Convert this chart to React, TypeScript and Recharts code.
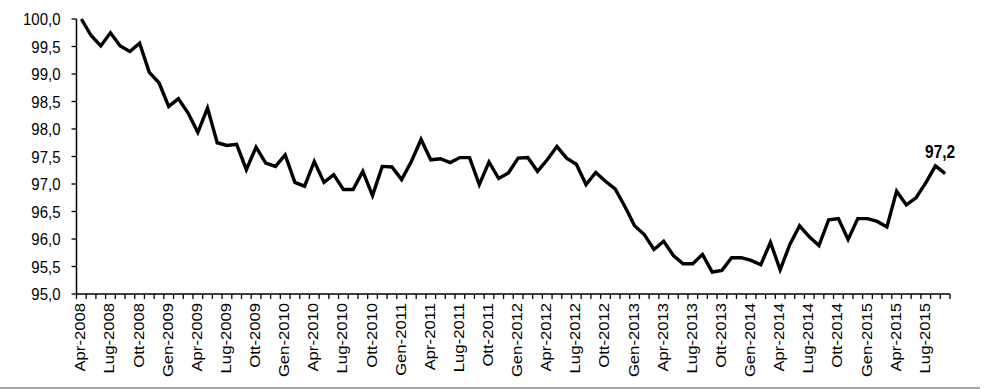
import React from 'react'
import { LineChart, Line, XAxis, YAxis, LabelList } from 'recharts'

// mesi da Apr-2008 a Set-2015
const months = [
  'Apr-2008', 'Mag-2008', 'Giu-2008', 'Lug-2008', 'Ago-2008', 'Set-2008', 'Ott-2008', 'Nov-2008', 'Dic-2008',
  'Gen-2009', 'Feb-2009', 'Mar-2009', 'Apr-2009', 'Mag-2009', 'Giu-2009', 'Lug-2009', 'Ago-2009', 'Set-2009',
  'Ott-2009', 'Nov-2009', 'Dic-2009', 'Gen-2010', 'Feb-2010', 'Mar-2010', 'Apr-2010', 'Mag-2010', 'Giu-2010',
  'Lug-2010', 'Ago-2010', 'Set-2010', 'Ott-2010', 'Nov-2010', 'Dic-2010', 'Gen-2011', 'Feb-2011', 'Mar-2011',
  'Apr-2011', 'Mag-2011', 'Giu-2011', 'Lug-2011', 'Ago-2011', 'Set-2011', 'Ott-2011', 'Nov-2011', 'Dic-2011',
  'Gen-2012', 'Feb-2012', 'Mar-2012', 'Apr-2012', 'Mag-2012', 'Giu-2012', 'Lug-2012', 'Ago-2012', 'Set-2012',
  'Ott-2012', 'Nov-2012', 'Dic-2012', 'Gen-2013', 'Feb-2013', 'Mar-2013', 'Apr-2013', 'Mag-2013', 'Giu-2013',
  'Lug-2013', 'Ago-2013', 'Set-2013', 'Ott-2013', 'Nov-2013', 'Dic-2013', 'Gen-2014', 'Feb-2014', 'Mar-2014',
  'Apr-2014', 'Mag-2014', 'Giu-2014', 'Lug-2014', 'Ago-2014', 'Set-2014', 'Ott-2014', 'Nov-2014', 'Dic-2014',
  'Gen-2015', 'Feb-2015', 'Mar-2015', 'Apr-2015', 'Mag-2015', 'Giu-2015', 'Lug-2015', 'Ago-2015', 'Set-2015',
]

const values = [
  100.0, 99.7, 99.51, 99.75, 99.51, 99.41, 99.56, 99.03, 98.84,
  98.41, 98.55, 98.29, 97.94, 98.38, 97.75, 97.7, 97.72, 97.26,
  97.67, 97.38, 97.32, 97.53, 97.03, 96.96, 97.41, 97.03, 97.17,
  96.9, 96.9, 97.23, 96.79, 97.32, 97.31, 97.08, 97.41, 97.81,
  97.44, 97.46, 97.39, 97.48, 97.48, 96.99, 97.4, 97.1, 97.2,
  97.47, 97.48, 97.23, 97.44, 97.68, 97.47, 97.36, 96.99, 97.21,
  97.05, 96.91, 96.59, 96.24, 96.08, 95.81, 95.96, 95.7, 95.55,
  95.55, 95.72, 95.4, 95.43, 95.66, 95.66, 95.61, 95.53, 95.94,
  95.44, 95.9, 96.24, 96.04, 95.88, 96.35, 96.37, 95.99, 96.37,
  96.37, 96.32, 96.22, 96.87, 96.62, 96.75, 97.02, 97.33, 97.19,
]

const yTicks = [95, 95.5, 96, 96.5, 97, 97.5, 98, 98.5, 99, 99.5, 100]

const data = months.map((m, i) => ({ month: m, value: values[i] }))

const FONT = '"Liberation Sans", Arial, sans-serif'
const STRETCH = 1.15
const PLOT_W = 873.5

const fmt = (v: number) => v.toFixed(1).replace('.', ',')

const XTick = (props: any) => {
  const { x, y, payload, index } = props
  const half = payload?.offset || PLOT_W / data.length / 2
  const axisY = y - 5
  return (
    <g>
      <line x1={x - half} x2={x - half} y1={axisY} y2={axisY + 5} stroke="#000" strokeWidth={1.3} />
      {index === data.length - 1 && (
        <line x1={x + half} x2={x + half} y1={axisY} y2={axisY + 5} stroke="#000" strokeWidth={1.3} />
      )}
      {index % 3 === 0 && (
        <text
          transform={`translate(${x + 4},${axisY + 9}) scale(1,${STRETCH}) rotate(-90)`}
          textAnchor="end"
          fontFamily={FONT}
          fontSize={14.5}
          fill="#000"
        >
          {payload.value}
        </text>
      )}
    </g>
  )
}

const YTick = (props: any) => {
  const { x, y, payload } = props
  return (
    <text
      transform={`translate(${x},${y}) scale(1,${STRETCH})`}
      textAnchor="end"
      dy="0.36em"
      fontFamily={FONT}
      fontSize={15}
      fill="#000"
    >
      {fmt(payload.value)}
    </text>
  )
}

const LastLabel = (props: any) => {
  const { x, y, index } = props
  if (index !== data.length - 1) return null
  return (
    <text
      transform={`translate(${x - 5},${y - 16}) scale(1,${STRETCH})`}
      textAnchor="middle"
      fontFamily={FONT}
      fontSize={15.5}
      fontWeight="bold"
      fill="#000"
    >
      {fmt(values[index])}
    </text>
  )
}

export default function App() {
  return (
    <div style={{ position: 'absolute', left: 0, top: 0, width: 995, height: 389, background: '#fff' }}>
      <LineChart
        width={995}
        height={389}
        data={data}
        margin={{ top: 19, right: 45, left: 0, bottom: 5 }}
      >
        <XAxis
          dataKey="month"
          scale="band"
          interval={0}
          height={90}
          tickSize={5}
          tickMargin={0}
          tickLine={false}
          axisLine={{ stroke: '#000', strokeWidth: 1.5 }}
          tick={<XTick />}
        />
        <YAxis
          domain={[95, 100]}
          ticks={yTicks}
          width={76.5}
          tickSize={5}
          tickMargin={11}
          tickLine={{ stroke: '#000', strokeWidth: 1.3 }}
          axisLine={{ stroke: '#000', strokeWidth: 1.5 }}
          tick={<YTick />}
        />
        <Line
          type="linear"
          dataKey="value"
          stroke="#000"
          strokeWidth={3.4}
          strokeLinejoin="miter"
          dot={false}
          isAnimationActive={false}
        >
          <LabelList dataKey="value" content={<LastLabel />} />
        </Line>
      </LineChart>
      <div style={{ position: 'absolute', left: 0, top: 386.5, width: 980, height: 2, background: '#a6a6a6' }} />
    </div>
  )
}
